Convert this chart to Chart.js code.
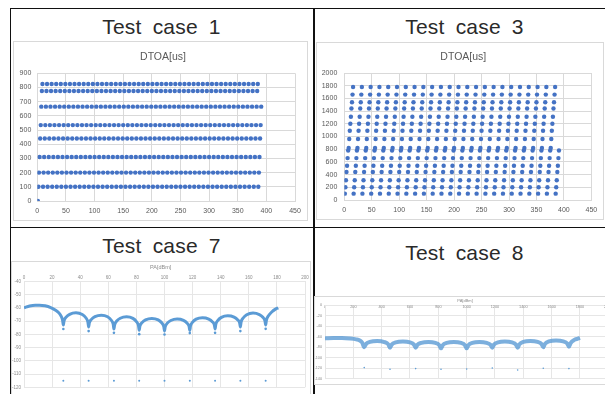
<!DOCTYPE html>
<html>
<head>
<meta charset="utf-8">
<script src="https://cdn.jsdelivr.net/npm/chart.js@4"></script>
<style>
  html, body { margin: 0; padding: 0; background: #fff; }
  body { width: 605px; height: 394px; position: relative; overflow: hidden; font-family: 'Liberation Sans', Arial, sans-serif; }
  .rule { position: absolute; background: #111; }
  .head { position: absolute; width: 303px; text-align: center; font-size: 21px; line-height: 21px; color: #2a2a2a; word-spacing: 5px; letter-spacing: 0.2px; white-space: nowrap; }
  .box { position: absolute; outline: 1px solid #d9d9d9; }
  .box canvas { position: absolute; left: 0; top: 0; }
</style>
</head>
<body>
<div class="rule" style="left:10px;top:8px;width:600px;height:1px"></div>
<div class="rule" style="left:10px;top:8px;width:1px;height:390px"></div>
<div class="rule" style="left:313px;top:8px;width:1.5px;height:390px"></div>
<div class="rule" style="left:10px;top:227px;width:600px;height:1px"></div>

<div class="head" style="left:10px;top:15.5px">Test case 1</div>
<div class="head" style="left:313px;top:15.5px">Test case 3</div>
<div class="head" style="left:10px;top:235px">Test case 7</div>
<div class="head" style="left:313px;top:242px">Test case 8</div>

<div class="box" style="left:14px;top:42px;width:293px;height:178px"><canvas id="case1" width="293" height="178"></canvas></div>
<div class="box" style="left:317px;top:43px;width:286px;height:176px"><canvas id="case3" width="286" height="176"></canvas></div>
<div class="box" style="left:12px;top:262px;width:298px;height:134px"><canvas id="case7" width="298" height="134"></canvas></div>
<div class="box" style="left:315px;top:297px;width:300px;height:87px"><canvas id="case8" width="300" height="87"></canvas></div>

<script>
// --- data ---

// Test case 1: DTOA of a staggered pulse train, 8 levels repeating, first pulse has DTOA 0
const case1Levels = [100, 200, 310, 440, 535, 665, 775, 825];
const case1LastPulse = 391;

// Test case 3: 16 levels repeating
const case3Levels = [100, 200, 310, 440, 540, 660, 780, 820, 960, 1090, 1200, 1310, 1440, 1540, 1660, 1780];
const case3LastPulse = 391;

// Test case 7: PA[dBm] scan curve
const case7CurveX = [
  0, 4, 8, 11, 15, 19, 22.5, 25, 26.5, 27.5, 28,
  28.5, 30, 32.5, 37, 41.5, 44, 45.5, 46,
  46.5, 48, 50.5, 55, 59.5, 62, 63.5, 64,
  64.5, 66, 68.5, 73, 77.5, 80, 81.5, 82,
  82.5, 84, 86.5, 91, 95.5, 98, 99.5, 100,
  100.5, 102, 104.5, 109, 113.5, 116, 117.5, 118,
  118.5, 120, 122.5, 127, 131.5, 134, 135.5, 136,
  136.5, 138, 140.5, 145, 149.5, 152, 153.5, 154,
  154.5, 156, 158.5, 163, 167.5, 170, 171.5, 172,
  172.5, 174, 176.5, 179, 181
];
const case7CurveY = [
  -60, -58.6, -58, -58, -58.5, -59.8, -61.8, -64, -66.5, -69.5, -73,
  -69.8, -67, -64.9, -63.8, -65.1, -67.5, -70.8, -74.5,
  -71.4, -68.7, -66.7, -65.6, -66.8, -69.2, -72.4, -76,
  -72.8, -70, -67.9, -66.8, -68, -70.4, -73.4, -77,
  -73.9, -71.2, -69.1, -68, -69.1, -71.3, -74.2, -77.5,
  -74.4, -71.6, -69.6, -68.5, -69.5, -71.5, -74, -77,
  -73.7, -70.8, -68.6, -67.5, -68.5, -70.5, -73, -76,
  -72.5, -69.5, -67.2, -66, -67, -69, -71.5, -74.5,
  -70.8, -67.7, -65.3, -64, -65.1, -67.1, -69.9, -73,
  -69.5, -66, -63, -61, -60
];
const case7NullX = [28, 46, 64, 82, 100, 118, 136, 154, 172];
const case7NullY = [-76, -77.6, -78.9, -79.9, -80.1, -79.1, -78.9, -77.6, -75.9];
const case7FloorY = [-115, -115, -115, -115, -115, -115, -115, -115, -115];

// Test case 8: noisy PA[dBm] band (centre line)
const case8BandX = [
  0, 60, 120, 180, 220, 245, 262, 277,
  289, 317, 368, 419, 447, 459,
  471, 499, 550, 600, 628, 640,
  652, 680, 730, 779, 807, 819,
  831, 859, 910, 960, 988, 1000,
  1012, 1040, 1090, 1141, 1169, 1181,
  1193, 1221, 1270, 1320, 1348, 1360,
  1372, 1400, 1450, 1501, 1529, 1541,
  1553, 1581, 1631, 1682, 1710, 1722,
  1734, 1760, 1785, 1800
];
const case8BandY = [
  -63, -62.5, -62.5, -63.5, -65, -67, -71, -80,
  -74, -69.8, -68, -70, -74.5, -81,
  -75, -70.8, -69, -70.8, -75, -81,
  -75.5, -71.6, -70, -71.8, -76, -82,
  -76, -71.8, -70, -71.8, -76, -82,
  -76, -71.8, -70, -71.7, -75.5, -81,
  -75, -70.8, -69, -70.8, -75, -81,
  -74.5, -69.9, -68, -69.8, -74, -80,
  -73.5, -68.9, -67, -68.8, -73, -79,
  -72, -66, -63.5, -62
];
const case8NullX = [277, 459, 640, 819, 1000, 1181, 1360, 1541, 1722];
const case8FloorY = [-118.8, -122, -120.7, -122, -121.4, -119.6, -123.3, -120.1, -120.7];

// --- helpers ---
const toPoints = (xs, ys) => xs.map((x, i) => ({ x: x, y: ys[i] }));

// pulse index on x, repeating DTOA levels on y
function pulseTrain(firstX, levels, lastX) {
    const pts = [];
    for (let x = firstX; x <= lastX; x++) {
        pts.push({ x: x, y: levels[(x - firstX) % levels.length] });
    }
    return pts;
}

Chart.defaults.font.family = "'Liberation Sans', Arial, sans-serif";
Chart.defaults.animation = false;

const EXCEL_BLUE = '#4472C4';
const LIGHT_BLUE = '#5B9BD5';

// Excel centres the title over the box, not over the plot, so draw it ourselves
const boxTitle = {
    id: 'boxTitle',
    afterDraw(chart, args, o) {
        const ctx = chart.ctx;
        ctx.save();
        ctx.font = o.size + "px 'Liberation Sans', Arial, sans-serif";
        ctx.fillStyle = o.color;
        ctx.textAlign = 'center';
        ctx.textBaseline = 'middle';
        ctx.fillText(o.text, o.x, o.y);
        ctx.restore();
    }
};

function axis(o) {
    return {
        type: 'linear',
        position: o.position,
        min: o.min, max: o.max,
        grid: { color: o.grid, drawTicks: false },
        border: { color: o.grid },
        ticks: {
            stepSize: o.step,
            color: o.color,
            font: { size: o.size },
            padding: o.pad,
            mirror: !!o.mirror,
            maxRotation: 0,
            autoSkip: false,
            callback: (v) => v
        },
        afterFit: (s) => { if (o.w !== undefined) s.width = o.w; if (o.h !== undefined) s.height = o.h; }
    };
}

function makeChart(id, datasets, o) {
    return new Chart(document.getElementById(id), {
        type: 'scatter',
        data: { datasets: datasets },
        plugins: [boxTitle],
        options: {
            responsive: false,
            layout: { padding: o.padding },
            plugins: {
                legend: { display: false },
                tooltip: { enabled: false },
                boxTitle: o.title
            },
            scales: { x: axis(o.x), y: axis(o.y) }
        }
    });
}

// Test case 1
makeChart('case1', [{
    data: [{ x: 1, y: 0 }].concat(pulseTrain(2, case1Levels, case1LastPulse)),
    backgroundColor: EXCEL_BLUE, borderWidth: 0, pointRadius: 2.2
}], {
    title: { text: 'DTOA[us]', color: '#595959', size: 10.5, x: 149, y: 15 },
    padding: { left: 0, right: 12, top: 31.3, bottom: 0 },
    x: { position: 'bottom', min: 0, max: 450, step: 50, grid: '#d9d9d9', color: '#595959', size: 7, pad: 5.5, h: 19 },
    y: { position: 'left', min: 0, max: 900, step: 100, grid: '#d9d9d9', color: '#595959', size: 7, pad: 6, w: 23.3 }
});

// Test case 3
makeChart('case3', [{
    data: pulseTrain(1, case3Levels, case3LastPulse),
    backgroundColor: EXCEL_BLUE, borderWidth: 0, pointRadius: 2.2
}], {
    title: { text: 'DTOA[us]', color: '#595959', size: 10.5, x: 146.3, y: 14 },
    padding: { left: 0, right: 6.3, top: 30, bottom: 0 },
    x: { position: 'bottom', min: 0, max: 450, step: 50, grid: '#d9d9d9', color: '#595959', size: 7, pad: 5.8, h: 19 },
    y: { position: 'left', min: 0, max: 2000, step: 200, grid: '#d9d9d9', color: '#595959', size: 7, pad: 7, w: 27.3 }
});

// Test case 7
makeChart('case7', [
    {
        data: toPoints(case7CurveX, case7CurveY),
        showLine: true, borderColor: LIGHT_BLUE, borderWidth: 3,
        cubicInterpolationMode: 'monotone', pointRadius: 0
    },
    {
        data: toPoints(case7NullX, case7NullY),
        backgroundColor: LIGHT_BLUE, borderWidth: 0, pointRadius: 1.3
    },
    {
        data: toPoints(case7NullX, case7FloorY),
        backgroundColor: LIGHT_BLUE, borderWidth: 0, pointRadius: 1
    }
], {
    title: { text: 'PA[dBm]', color: '#8c8c8c', size: 5.5, x: 148.7, y: 5.7 },
    padding: { left: 0, right: 5, top: 10, bottom: 8.7 },
    x: { position: 'top', min: 0, max: 200, step: 20, grid: '#e6e6e6', color: '#8c8c8c', size: 4.5, pad: 0.9, h: 9.3 },
    y: { position: 'left', min: -120, max: -40, step: 10, grid: '#e6e6e6', color: '#8c8c8c', size: 4.5, pad: 3, w: 12 }
});

// Test case 8
makeChart('case8', [
    {
        data: toPoints(case8BandX, case8BandY),
        showLine: true, borderColor: 'rgba(91,155,213,0.8)', borderWidth: 4,
        cubicInterpolationMode: 'monotone', pointRadius: 0
    },
    {
        data: toPoints(case8NullX, case8FloorY),
        backgroundColor: LIGHT_BLUE, borderWidth: 0, pointRadius: 0.8
    }
], {
    title: { text: 'PA[dBm]', color: '#8c8c8c', size: 4, x: 150, y: 4 },
    padding: { left: 0, right: 6.7, top: 6, bottom: 3.3 },
    x: { position: 'top', min: 0, max: 2000, step: 200, grid: '#e6e6e6', color: '#8c8c8c', size: 3.8, pad: -0.7, mirror: true, h: 2.3 },
    y: { position: 'left', min: -140, max: 0, step: 20, grid: '#e6e6e6', color: '#8c8c8c', size: 3.8, pad: 3, w: 10 }
});
</script>
</body>
</html>
